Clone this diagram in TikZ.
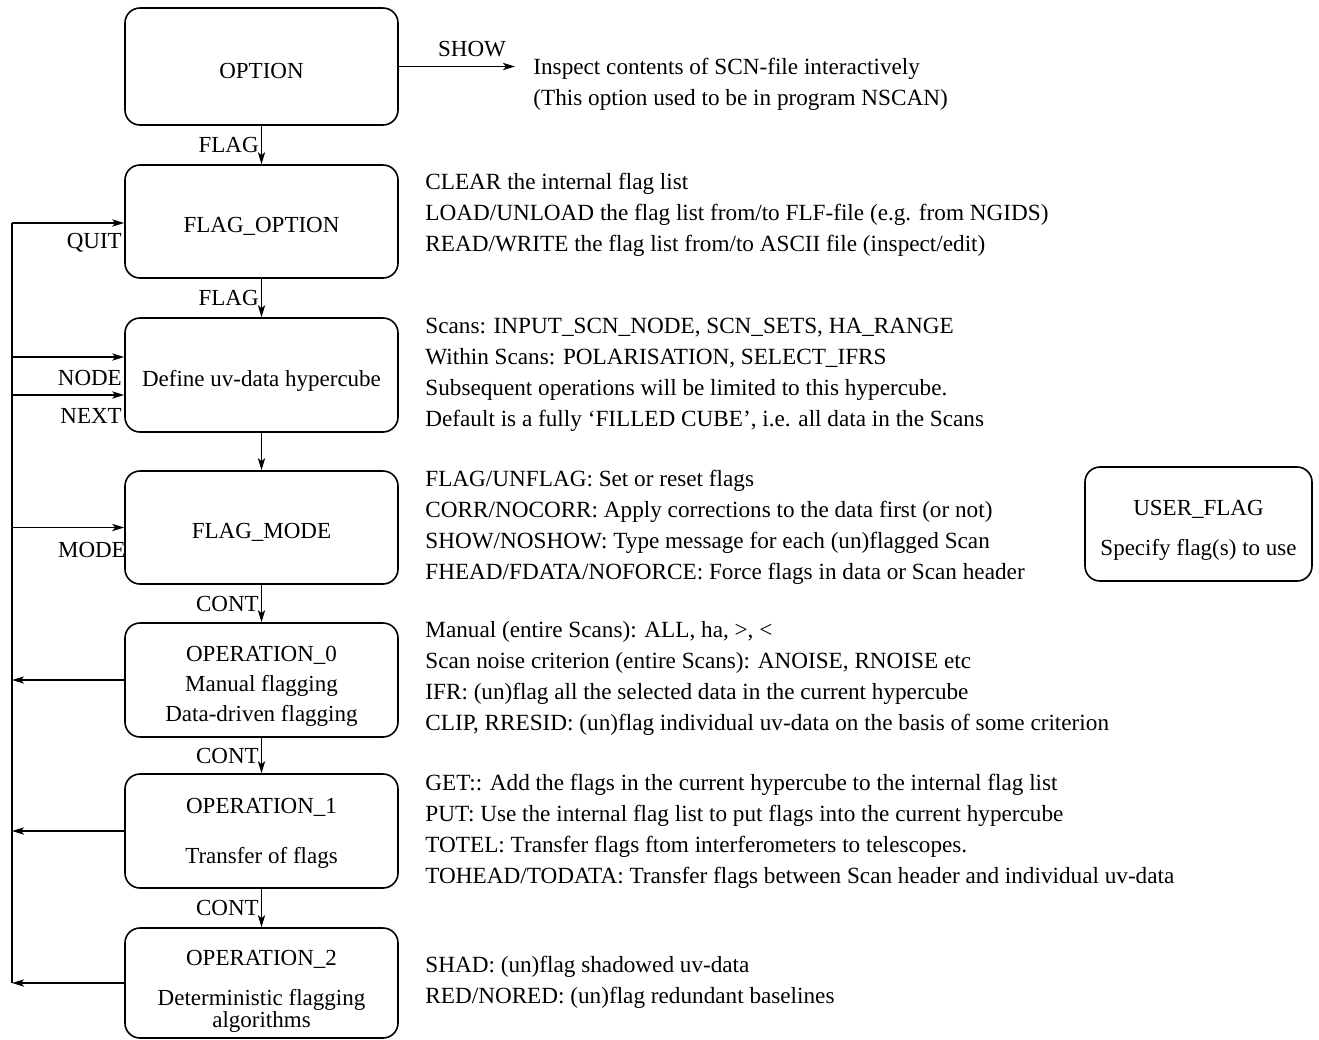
\documentclass[tikz,border=0pt]{standalone}
\usepackage{fontspec}
\setmainfont{Liberation Serif}
\usetikzlibrary{arrows.meta}
% invisible strut that lowers a box's text a little below the box centre
\newcommand\padtop[1]{\rule{0pt}{#1}}
\begin{document}
\begin{tikzpicture}[x=0.5pt,y=-0.5pt,
  every node/.style={font=\fontsize{11.5}{15}\selectfont},
  stepbox/.style={draw, rounded corners=7.5pt, line width=0.8pt, minimum width=136.5pt, align=center, inner sep=0pt},
  flow/.style={line width=0.8pt, -{Stealth[length=6pt,width=3.6pt,inset=1.5pt]}},
  link/.style={line width=0.8pt},
  note/.style={anchor=west, align=left, inner sep=0pt, font=\fontsize{11.6}{15.5}\selectfont},
  lbl/.style={inner sep=1pt}
]
\useasboundingbox (0,0) rectangle (1319,1040);

% main chain of menus
\node[stepbox, minimum height=58.5pt] (opt)   at (261.5,66.5)  {\padtop{11.8pt}OPTION};
\node[stepbox, minimum height=56.5pt] (fopt)  at (261.5,221.5) {\padtop{12.8pt}FLAG\_OPTION};
\node[stepbox, minimum height=57pt]   (cube)  at (261.5,375)   {\padtop{13.9pt}Define uv-data hypercube};
\node[stepbox, minimum height=56.5pt] (fmode) at (261.5,527.5) {\padtop{12.8pt}FLAG\_MODE};
\node[stepbox, minimum height=57pt]   (op0)   at (261.5,680)   {\padtop{13.8pt}OPERATION\_0\\Manual flagging\\Data-driven flagging};
\node[stepbox, minimum height=57pt]   (op1)   at (261.5,831)   {\padtop{9.8pt}OPERATION\_1\\[10pt]Transfer of flags};
\node[stepbox, minimum height=55pt]   (op2)   at (261.5,983)   {\padtop{16.3pt}OPERATION\_2\\[5pt]Deterministic flagging\\[-4pt]algorithms};
\node[stepbox, minimum width=113.5pt, minimum height=57pt] (user) at (1198.5,524) {\padtop{13.8pt}USER\_FLAG\\[5pt]Specify flag(s) to use};

% downward flow
\draw[flow] (opt.south)   -- node[lbl, anchor=east] {FLAG} (fopt.north);
\draw[flow] (fopt.south)  -- node[lbl, anchor=east] {FLAG} (cube.north);
\draw[flow] (cube.south)  -- (fmode.north);
\draw[flow] (fmode.south) -- node[lbl, anchor=east] {CONT} (op0.north);
\draw[flow] (op0.south)   -- node[lbl, anchor=east] {CONT} (op1.north);
\draw[flow] (op1.south)   -- node[lbl, anchor=east] {CONT} (op2.north);

% SHOW branch
\coordinate (showend) at (515,66.5);
\draw[flow] (opt.east) -- node[pos=0.63, above, inner sep=4.5pt] {SHOW} (showend);
\node[note] (shownote) at (533,84) {Inspect contents of SCN-file interactively\\(This option used to be in program NSCAN)};

% return bus on the left
\coordinate (busTop) at (12,223);
\coordinate (busBot) at (12,983);
\coordinate (nodein) at (12,357);
\coordinate (nextin) at (12,395);
\draw[link] (busTop) -- (busBot);
\draw[flow] (busTop) -- (busTop -| fopt.west);
\draw[flow] (nodein) -- (nodein -| cube.west);
\draw[flow] (nextin) -- (nextin -| cube.west);
\draw[flow] (fmode.west -| busTop) -- (fmode.west);
\draw[flow] (op0.west) -- (op0.west -| busTop);
\draw[flow] (op1.west) -- (op1.west -| busTop);
\draw[flow] (op2.west) -- (busBot);

\node[lbl, anchor=east] (quitlbl) at ([yshift=-10pt]busTop -| fopt.west) {QUIT};
\node[lbl, anchor=east] (nodelbl) at ([yshift=-10.5pt]nodein -| cube.west) {NODE};
\node[lbl, anchor=east] (nextlbl) at ([yshift=-10.5pt]nextin -| cube.west) {NEXT};
\node[lbl, anchor=east, xshift=2pt] (modelbl) at ([yshift=-11pt]fmode.west) {MODE};

% explanations
\node[note] (n1) at (425,215) {CLEAR the internal flag list\\LOAD/UNLOAD the flag list from/to FLF-file (e.g. from NGIDS)\\READ/WRITE the flag list from/to ASCII file (inspect/edit)};
\node[note] (n2) at (425,375) {Scans: INPUT\_SCN\_NODE, SCN\_SETS, HA\_RANGE\\Within Scans: POLARISATION, SELECT\_IFRS\\Subsequent operations will be limited to this hypercube.\\Default is a fully `FILLED CUBE', i.e. all data in the Scans};
\node[note] (n3) at (425,527) {FLAG/UNFLAG: Set or reset flags\\CORR/NOCORR: Apply corrections to the data first (or not)\\SHOW/NOSHOW: Type message for each (un)flagged Scan\\FHEAD/FDATA/NOFORCE: Force flags in data or Scan header};
\node[note] (n4) at (425,678) {Manual (entire Scans): ALL, ha, >, <\\Scan noise criterion (entire Scans): ANOISE, RNOISE etc\\IFR: (un)flag all the selected data in the current hypercube\\CLIP, RRESID: (un)flag individual uv-data on the basis of some criterion};
\node[note] (n5) at (425,831) {GET:: Add the flags in the current hypercube to the internal flag list\\PUT: Use the internal flag list to put flags into the current hypercube\\TOTEL: Transfer flags ftom interferometers to telescopes.\\TOHEAD/TODATA: Transfer flags between Scan header and individual uv-data};
\node[note] (n6) at (425,982) {SHAD: (un)flag shadowed uv-data\\RED/NORED: (un)flag redundant baselines};
\end{tikzpicture}
\end{document}
